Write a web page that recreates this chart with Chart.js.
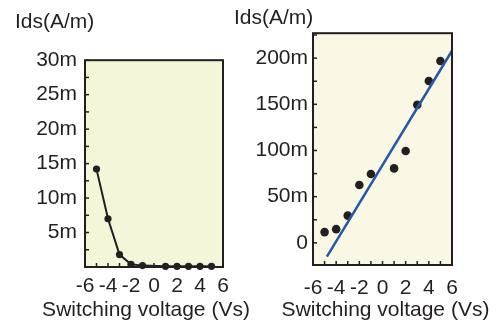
<!DOCTYPE html>
<html>
<head>
<meta charset="utf-8">
<script src="https://cdn.jsdelivr.net/npm/chart.js@4.4.1/dist/chart.umd.min.js"></script>
<style>
  html, body { margin: 0; padding: 0; background: #ffffff; }
  body { width: 500px; height: 327px; position: relative; overflow: hidden; }
  .box { position: absolute; top: 0; height: 327px; }
  #leftBox { left: 0; width: 260px; }
  #rightBox { left: 232px; width: 268px; }
</style>
</head>
<body>
<div class="box" id="leftBox"><canvas id="leftChart"></canvas></div>
<div class="box" id="rightBox"><canvas id="rightChart"></canvas></div>
<script>
// ---- data (currents in mA/m, shown with "m" suffix) ----
const switchingVoltage = [-5, -4, -3, -2, -1, 1, 2, 3, 4, 5];
const leftIds = [14.2, 7.0, 1.8, 0.4, 0.2, 0.1, 0.1, 0.1, 0.1, 0.1];
const rightIds = [11.6, 14.8, 29.5, 62.6, 74.5, 80.6, 99.4, 149.4, 175.3, 196.9];
const fitX = [-4.8, 6];
const fitY = [-15, 208];
const xTickValues = [-6, -4, -2, 0, 2, 4, 6];
const leftYTickValues = [5, 10, 15, 20, 25, 30];
const rightYTickValues = [0, 50, 100, 150, 200];
const yTitle = 'Ids(A/m)';
const xTitle = 'Switching voltage (Vs)';

const FONT = "'Liberation Sans', Arial, Helvetica, sans-serif";
Chart.defaults.font.family = FONT;
Chart.defaults.font.size = 21;
Chart.defaults.color = '#231f20';

const fmtMilli = v => (v === 0 ? '0' : v + 'm');

// Plot frame: background fill, inward minor ticks, border, x-axis title
function framePlugin(bg, xStep, yStep, titleDx) {
  return {
    id: 'frame',
    beforeDraw(chart) {
      const { ctx, chartArea: a } = chart;
      ctx.save();
      ctx.fillStyle = bg;
      ctx.fillRect(a.left, a.top, a.right - a.left, a.bottom - a.top);
      ctx.restore();
    },
    beforeDatasetsDraw(chart) {
      const { ctx, chartArea: a, scales } = chart;
      ctx.save();
      ctx.strokeStyle = '#231f20';
      ctx.lineWidth = 1.5;
      const xs = scales.x, ys = scales.y;
      const tl = 4;
      for (let v = Math.ceil(xs.min / xStep) * xStep; v <= xs.max + 1e-9; v += xStep) {
        const px = xs.getPixelForValue(v);
        ctx.beginPath(); ctx.moveTo(px, a.bottom); ctx.lineTo(px, a.bottom - tl); ctx.stroke();
      }
      for (let v = Math.ceil(ys.min / yStep) * yStep; v <= ys.max + 1e-9; v += yStep) {
        const py = ys.getPixelForValue(v);
        ctx.beginPath(); ctx.moveTo(a.left, py); ctx.lineTo(a.left + tl, py); ctx.stroke();
      }
      ctx.restore();
    },
    afterDraw(chart) {
      const { ctx, chartArea: a } = chart;
      ctx.save();
      ctx.strokeStyle = '#231f20';
      ctx.lineWidth = 2;
      ctx.strokeRect(a.left, a.top, a.right - a.left, a.bottom - a.top);
      // x-axis title (drawn unsqueezed, may overhang the plot width)
      ctx.fillStyle = '#231f20';
      ctx.font = '21px ' + FONT;
      ctx.textAlign = 'center';
      ctx.textBaseline = 'middle';
      ctx.fillText(xTitle, (a.left + a.right) / 2 + titleDx, 310);
      ctx.restore();
    }
  };
}

function xScale(height, tickPad) {
  return {
    type: 'linear', min: -6, max: 6,
    grid: { display: false, drawTicks: false }, border: { display: false },
    afterBuildTicks: s => { s.ticks = xTickValues.map(v => ({ value: v })); },
    afterFit: s => { s.height = height; },
    ticks: { padding: tickPad, maxRotation: 0, autoSkip: false, callback: v => String(v) }
  };
}

function yScale(min, max, tickVals, width, pad) {
  return {
    type: 'linear', min, max,
    grid: { display: false, drawTicks: false }, border: { display: false },
    afterBuildTicks: s => { s.ticks = tickVals.map(v => ({ value: v })); },
    afterFit: s => { s.width = width; },
    ticks: { padding: pad, autoSkip: false, callback: v => fmtMilli(v) }
  };
}

new Chart(document.getElementById('leftChart'), {
  type: 'scatter',
  data: {
    datasets: [{
      data: switchingVoltage.map((x, i) => ({ x, y: leftIds[i] })),
      showLine: true,
      borderColor: '#231f20', borderWidth: 2,
      pointBackgroundColor: '#231f20', pointBorderColor: '#231f20',
      pointRadius: 3.6, pointBorderWidth: 0,
      clip: false
    }]
  },
  options: {
    responsive: true, maintainAspectRatio: false, animation: false,
    layout: { padding: { left: 15, right: 37, top: 0, bottom: 0 } },
    plugins: {
      legend: { display: false }, tooltip: { enabled: false },
      title: { display: true, text: yTitle, align: 'start', font: { size: 21, weight: 'normal' }, padding: { top: 10, bottom: 25 }, color: '#231f20' }
    },
    scales: { x: xScale(60, 7), y: yScale(0, 30, leftYTickValues, 70, 8) }
  },
  plugins: [framePlugin('#f3f6d9', 1, 2.5, -8)]
});

new Chart(document.getElementById('rightChart'), {
  type: 'scatter',
  data: {
    datasets: [
      {
        data: fitX.map((x, i) => ({ x, y: fitY[i] })),
        showLine: true, borderColor: '#2757a8', borderWidth: 2.5,
        pointRadius: 0, clip: false
      },
      {
        data: switchingVoltage.map((x, i) => ({ x, y: rightIds[i] })),
        showLine: false,
        pointBackgroundColor: '#231f20', pointBorderColor: '#231f20',
        pointRadius: 4.3, pointBorderWidth: 0, clip: false
      }
    ]
  },
  options: {
    responsive: true, maintainAspectRatio: false, animation: false,
    layout: { padding: { left: 2, right: 48, top: 0, bottom: 0 } },
    plugins: {
      legend: { display: false }, tooltip: { enabled: false },
      title: { display: true, text: yTitle, align: 'start', font: { size: 21, weight: 'normal' }, padding: { top: 6, bottom: 2 }, color: '#231f20' }
    },
    scales: { x: xScale(62, 11), y: yScale(-24, 227, rightYTickValues, 79, 5) }
  },
  plugins: [framePlugin('#faf8e5', 1, 25, 3)]
});
</script>
</body>
</html>
